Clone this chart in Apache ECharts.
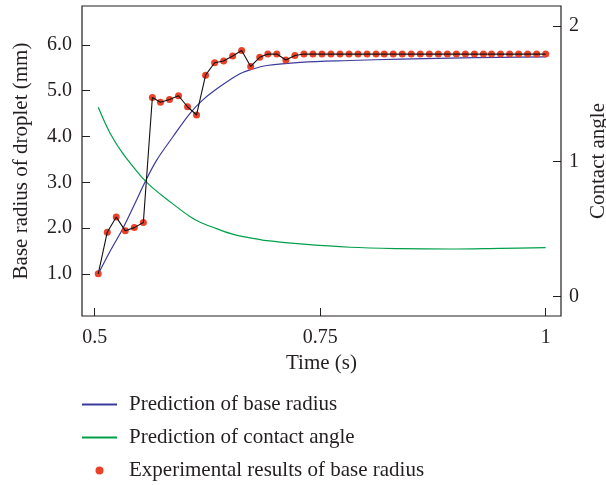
<!DOCTYPE html>
<html>
<head>
<meta charset="utf-8">
<title>Base radius and contact angle</title>
<script src="https://cdn.jsdelivr.net/npm/echarts@6/dist/echarts.min.js"></script>
<style>
  html, body { margin: 0; padding: 0; background: #fff; }
  #chart { width: 606px; height: 485px; }
</style>
</head>
<body>
<div id="chart"></div>
<script>
// experimental samples (time in s, base radius in mm)
const expTime = [0.504, 0.514, 0.524, 0.534, 0.544, 0.554, 0.564, 0.573, 0.583, 0.593,
  0.603, 0.613, 0.623, 0.633, 0.643, 0.653, 0.663, 0.673, 0.683, 0.692,
  0.702, 0.712, 0.722, 0.732, 0.742, 0.752, 0.762, 0.772, 0.782, 0.792,
  0.802, 0.812, 0.821, 0.831, 0.841, 0.851, 0.861, 0.871, 0.881, 0.891,
  0.901, 0.911, 0.921, 0.931, 0.940, 0.950, 0.960, 0.970, 0.980, 0.990, 1.000]
const expRadius = [1.00, 1.91, 2.24, 1.94, 2.01, 2.12, 4.85, 4.75, 4.81, 4.89,
  4.65, 4.47, 5.34, 5.61, 5.65, 5.76, 5.88, 5.53, 5.73, 5.80,
  5.80, 5.67, 5.77, 5.80, 5.80, 5.80, 5.80, 5.80, 5.80, 5.80,
  5.80, 5.80, 5.80, 5.80, 5.80, 5.80, 5.80, 5.80, 5.80, 5.80,
  5.80, 5.80, 5.80, 5.80, 5.80, 5.80, 5.80, 5.80, 5.80, 5.80, 5.80]

// predicted base radius (left axis)
const radiusTime = [0.504, 0.517, 0.531, 0.544, 0.557, 0.569, 0.587, 0.606, 0.620, 0.639,
  0.661, 0.673, 0.691, 0.728, 0.783, 0.839, 0.894, 0.950, 1.000]
const radiusPred = [1.00, 1.49, 1.98, 2.51, 3.05, 3.49, 4.00, 4.51, 4.80, 5.09,
  5.37, 5.46, 5.55, 5.62, 5.66, 5.69, 5.71, 5.73, 5.74]

// predicted contact angle (right axis)
const angleTime = [0.504, 0.517, 0.531, 0.550, 0.557, 0.565, 0.580, 0.606, 0.617, 0.639,
  0.654, 0.672, 0.691, 0.728, 0.783, 0.839, 0.894, 0.950, 1.000]
const anglePred = [1.40, 1.21, 1.06, 0.90, 0.85, 0.80, 0.72, 0.59, 0.55, 0.493,
  0.46, 0.435, 0.414, 0.39, 0.365, 0.355, 0.352, 0.357, 0.362]

const xTicks = [0.5, 0.75, 1]
const leftTicks = [1, 2, 3, 4, 5, 6]
const rightTicks = [0, 1, 2]

const zip = (a, b) => a.map((v, i) => [v, b[i]])

const font = 'Liberation Serif'
const ink = '#231f20'
const blue = '#3a3a9e'
const green = '#00a04a'
const red = '#ec4129'

const chartDom = document.getElementById('chart')
const myChart = echarts.init(chartDom)

const tickStyle = { inside: true, length: 8, lineStyle: { color: ink, width: 1 } }
const labelStyle = { fontFamily: font, fontSize: 20, color: ink }
const nameStyle = { fontFamily: font, fontSize: 21, color: ink }

const option = {
  animation: false,
  textStyle: { fontFamily: font, color: ink },
  grid: {
    left: 82, right: 45, top: 6, bottom: 169,
    outerBoundsMode: 'none',
    containLabel: false,
    show: true, borderColor: ink, borderWidth: 1.2, backgroundColor: 'transparent'
  },
  legend: {
    orient: 'vertical',
    left: 81,
    top: 394,
    height: 95,
    padding: 0,
    itemWidth: 35,
    itemHeight: 8,
    itemGap: 12,
    textStyle: { fontFamily: font, fontSize: 21, lineHeight: 21, color: ink, padding: [0, 0, 0, 7] },
    data: [
      { name: 'Prediction of base radius', itemStyle: { opacity: 0 } },
      { name: 'Prediction of contact angle', itemStyle: { opacity: 0 } },
      { name: 'Experimental results of base radius', icon: 'circle' }
    ]
  },
  xAxis: {
    type: 'value',
    min: 0.486,
    max: 1.017,
    name: 'Time (s)',
    nameLocation: 'middle',
    nameGap: 36,
    nameTextStyle: nameStyle,
    axisLine: { show: false, onZero: false },
    splitLine: { show: false },
    axisTick: Object.assign({ customValues: xTicks }, tickStyle),
    axisLabel: Object.assign({ customValues: xTicks, margin: 12 }, labelStyle)
  },
  yAxis: [
    {
      type: 'value',
      min: 0.08,
      max: 6.85,
      name: 'Base radius of droplet (mm)',
      nameLocation: 'middle',
      nameGap: 50,
      nameTextStyle: nameStyle,
      axisLine: { show: false, onZero: false },
      splitLine: { show: false },
      axisTick: Object.assign({ customValues: leftTicks }, tickStyle),
      axisLabel: Object.assign({ customValues: leftTicks, margin: 10, formatter: v => v.toFixed(1) }, labelStyle)
    },
    {
      type: 'value',
      min: -0.143,
      max: 2.148,
      position: 'right',
      name: 'Contact angle',
      nameLocation: 'middle',
      nameGap: 27,
      nameRotate: 90,
      nameMoveOverlap: false,
      nameTextStyle: Object.assign({ align: 'center', verticalAlign: 'top' }, nameStyle),
      axisLine: { show: false, onZero: false },
      splitLine: { show: false },
      axisTick: Object.assign({ customValues: rightTicks }, tickStyle),
      axisLabel: Object.assign({ customValues: rightTicks, margin: 8 }, labelStyle)
    }
  ],
  series: [
    {
      name: 'Prediction of base radius',
      type: 'line',
      yAxisIndex: 0,
      data: zip(radiusTime, radiusPred),
      smooth: 0.35,
      symbol: 'none',
      lineStyle: { color: blue, width: 1.2 },
      itemStyle: { color: blue },
      z: 2
    },
    {
      name: 'Prediction of contact angle',
      type: 'line',
      yAxisIndex: 1,
      data: zip(angleTime, anglePred),
      smooth: 0.35,
      symbol: 'none',
      lineStyle: { color: green, width: 1.2 },
      itemStyle: { color: green },
      z: 2
    },
    {
      name: 'Experimental results of base radius',
      type: 'scatter',
      yAxisIndex: 0,
      data: zip(expTime, expRadius),
      symbol: 'circle',
      symbolSize: 7,
      itemStyle: { color: red, opacity: 1 },
      z: 3
    },
    {
      name: 'exp-link',
      type: 'line',
      yAxisIndex: 0,
      data: zip(expTime, expRadius),
      symbol: 'none',
      lineStyle: { color: '#111', width: 1.1 },
      z: 4
    }
  ]
}

option && myChart.setOption(option)
</script>
</body>
</html>
